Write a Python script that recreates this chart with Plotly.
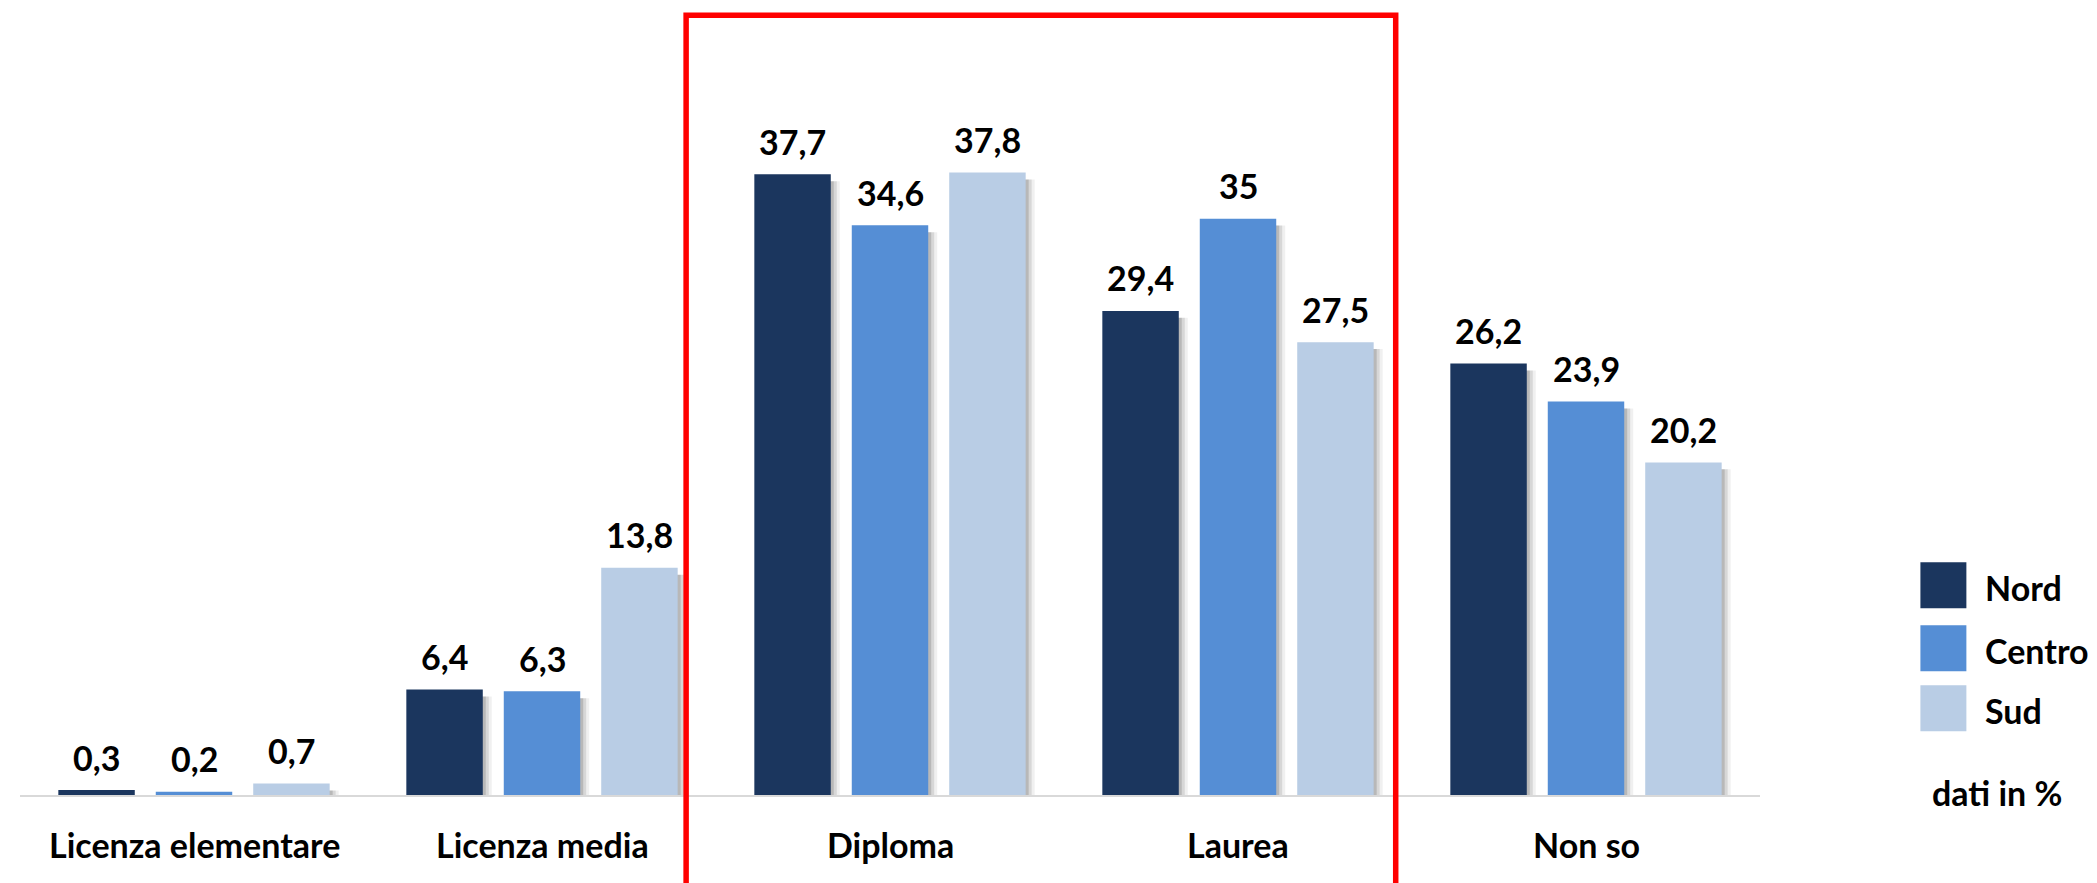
import plotly.graph_objects as go

categories = ["Licenza elementare", "Licenza media", "Diploma", "Laurea", "Non so"]
series = ["Nord", "Centro", "Sud"]
nord = [0.3, 6.4, 37.7, 29.4, 26.2]
centro = [0.2, 6.3, 34.6, 35, 23.9]
sud = [0.7, 13.8, 37.8, 27.5, 20.2]
values = [nord, centro, sud]
colors = ["#1b365e", "#558ed5", "#b9cde5"]
note = "dati in %"

W, H = 2097, 883
ML, MT = 11.5, 45.5
PW = 1741
BASE = 786.7
PH = BASE - MT
MR = W - ML - PW
MB = H - BASE

def px(x):
    return (x - ML) / PW

def py(y):
    return (BASE - y) / PH

FONT = "Lato, Carlito, Calibri, sans-serif"
FS = 34

def fmt(v):
    s = f"{v:.1f}".replace(".", ",")
    return s[:-2] if s.endswith(",0") else s

unit = PW / 5.0
pitch = 97.5 / unit
bw = 76.5 / unit
xs = list(range(len(categories)))

fig = go.Figure()
# soft drop shadows
for sh_off, alpha in [(9, 0.06), (6, 0.10), (3, 0.14)]:
    for i, vals in enumerate(values):
        off = (i - 1) * pitch - bw / 2
        fig.add_trace(go.Bar(x=xs, y=[max(v - 0.3, 0.05) for v in vals], base=-0.12,
                             offset=off + sh_off / unit, width=bw,
                             marker=dict(color=f"rgba(0,0,0,{alpha})", line=dict(width=0)),
                             showlegend=False, hoverinfo="skip"))
for i, vals in enumerate(values):
    off = (i - 1) * pitch - bw / 2
    fig.add_trace(go.Bar(x=xs, y=vals, offset=off, width=bw, name=series[i],
                         marker=dict(color=colors[i], line=dict(width=0)),
                         showlegend=False))

ann = []
for i, vals in enumerate(values):
    for j, v in enumerate(vals):
        ann.append(dict(x=j + (i - 1) * pitch, y=v, xref="x", yref="y", text=f"<b>{fmt(v)}</b>",
                        showarrow=False, yanchor="middle", yshift=33,
                        font=dict(family=FONT, size=FS, color="#000000")))
for j, c in enumerate(categories):
    ann.append(dict(x=j, y=py(836), xref="x", yref="paper", text=f"<b>{c}</b>",
                    showarrow=False, yanchor="middle",
                    font=dict(family=FONT, size=FS, color="#000000")))

shapes = []
# legend
leg_y = [577, 640, 700]
for i, s in enumerate(series):
    shapes.append(dict(type="rect", xref="paper", yref="paper", x0=px(1913), x1=px(1959),
                       y0=py(leg_y[i] - 23), y1=py(leg_y[i] + 23),
                       fillcolor=colors[i], line=dict(width=0)))
    ann.append(dict(x=px(1976), y=py(leg_y[i] + 2), xref="paper", yref="paper", text=f"<b>{s}</b>",
                    showarrow=False, xanchor="left", yanchor="middle",
                    font=dict(family=FONT, size=FS, color="#000000")))
ann.append(dict(x=px(1990), y=py(784), xref="paper", yref="paper", text=f"<b>{note}</b>",
                showarrow=False, xanchor="center", yanchor="middle",
                font=dict(family=FONT, size=FS, color="#000000")))
# red highlight box
shapes.append(dict(type="rect", xref="paper", yref="paper", x0=px(678), x1=px(1388),
                   y0=py(881), y1=py(6.7), line=dict(color="#ff0000", width=5.5)))

fig.update_layout(
    width=W, height=H,
    margin=dict(l=ML, r=MR, t=MT, b=MB),
    paper_bgcolor="white", plot_bgcolor="white",
    barmode="overlay",
    xaxis=dict(range=[-0.5, 4.5], showgrid=False, zeroline=False, showticklabels=False,
               showline=True, linecolor="#d9d9d9", linewidth=2),
    yaxis=dict(range=[0, PH / 16.47], showgrid=False, zeroline=False, showticklabels=False,
               showline=False),
    annotations=ann, shapes=shapes,
    showlegend=False,
)
fig.write_html("out.html")
